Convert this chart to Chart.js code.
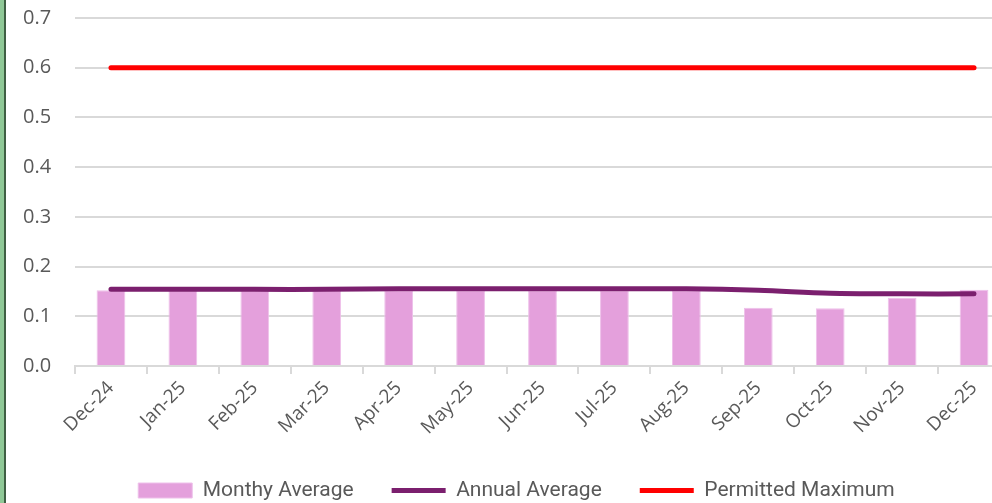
<!DOCTYPE html>
<html>
<head>
<meta charset="utf-8">
<script src="https://cdn.jsdelivr.net/npm/chart.js@4.4.1/dist/chart.umd.min.js"></script>
<style>
  html, body { margin: 0; padding: 0; background: #fff; overflow: hidden; }
  #frame { position: relative; width: 992px; height: 503px; overflow: hidden; }
  #edge { position: absolute; left: 0; top: 0; width: 4px; height: 503px; background: #8fc897; border-right: 2px solid #3f5f44; z-index: 2; }
  #wrap { position: absolute; left: 0; top: 0; width: 1010px; height: 511px; }
</style>
</head>
<body>
<div id="frame">
  <div id="edge"></div>
  <div id="wrap"><canvas id="chart"></canvas></div>
</div>
<script>
// categories and series
const months = ['Dec-24', 'Jan-25', 'Feb-25', 'Mar-25', 'Apr-25', 'May-25', 'Jun-25',
                'Jul-25', 'Aug-25', 'Sep-25', 'Oct-25', 'Nov-25', 'Dec-25'];
const monthlyAvg = [0.152, 0.152, 0.152, 0.152, 0.152, 0.152, 0.152, 0.152, 0.152, 0.117, 0.116, 0.137, 0.153];
const annualAvg = [0.154, 0.154, 0.154, 0.154, 0.155, 0.155, 0.155, 0.155, 0.155, 0.152, 0.146, 0.145, 0.145];
const permittedMax = [0.6, 0.6, 0.6, 0.6, 0.6, 0.6, 0.6, 0.6, 0.6, 0.6, 0.6, 0.6, 0.6];
const yTicks = [0, 0.1, 0.2, 0.3, 0.4, 0.5, 0.6, 0.7];

const pink = '#e4a0dc';
const plum = '#7b1f6e';
const red = '#ff0000';
const grey = '#595959';
const gridGrey = '#d9d9d9';

new Chart(document.getElementById('chart'), {
    type: 'bar',
    data: {
        labels: months,
        datasets: [
            {
                type: 'line',
                label: 'Permitted Maximum',
                data: permittedMax,
                borderColor: red,
                backgroundColor: red,
                borderWidth: 5,
                pointRadius: 0,
                borderCapStyle: 'round',
                pointStyle: 'line',
                order: 1
            },
            {
                type: 'line',
                label: 'Annual Average',
                data: annualAvg,
                borderColor: plum,
                backgroundColor: plum,
                borderWidth: 5,
                pointRadius: 0,
                tension: 0.35,
                borderCapStyle: 'round',
                pointStyle: 'line',
                order: 2
            },
            {
                label: 'Monthy Average',
                data: monthlyAvg,
                backgroundColor: pink,
                borderColor: '#eec0ea',
                borderWidth: 1,
                barPercentage: 0.4,
                categoryPercentage: 1,
                pointStyle: 'rect',
                order: 3
            }
        ]
    },
    options: {
        responsive: true,
        maintainAspectRatio: false,
        animation: false,
        layout: { padding: { left: 23, top: 18, right: 0, bottom: 0 } },
        plugins: {
            tooltip: { enabled: false },
            legend: {
                position: 'bottom',
                reverse: true,
                labels: {
                    usePointStyle: true,
                    pointStyleWidth: 54,
                    boxHeight: 15,
                    padding: 38,
                    color: grey,
                    font: { family: "'Liberation Sans Narrow', 'Roboto', sans-serif", size: 21 }
                }
            }
        },
        scales: {
            x: {
                grid: { drawOnChartArea: false, drawTicks: true, tickLength: 8, color: gridGrey, lineWidth: 2 },
                border: { color: gridGrey, width: 2 },
                ticks: {
                    color: grey,
                    maxRotation: 45,
                    minRotation: 45,
                    padding: 3,
                    font: { family: "'Open Sans', sans-serif", size: 19 }
                }
            },
            y: {
                min: 0,
                max: 0.7,
                afterBuildTicks: axis => { axis.ticks = yTicks.map(v => ({ value: v })); },
                // keep the gap between labels and plot without the extra top padding ticks.padding adds
                afterFit: axis => { axis.width = 52; },
                grid: { color: gridGrey, lineWidth: 2, drawTicks: false },
                border: { display: false },
                ticks: {
                    color: grey,
                    padding: 0,
                    crossAlign: 'far',
                    callback: v => v.toFixed(1),
                    font: { family: "'Open Sans', sans-serif", size: 20 }
                }
            }
        }
    }
});
</script>
</body>
</html>
